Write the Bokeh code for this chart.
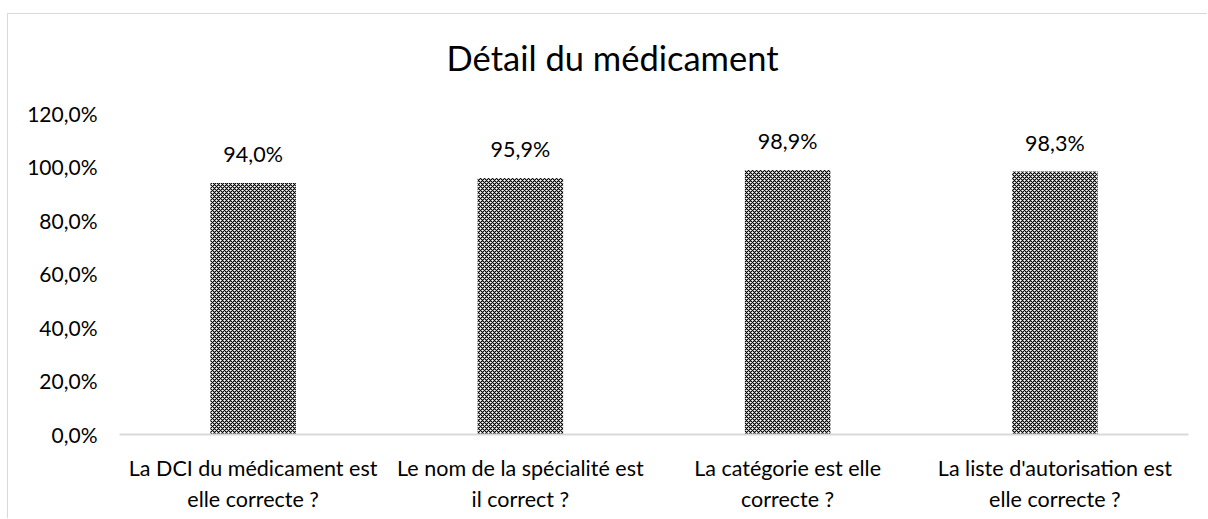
from bokeh.plotting import figure
from bokeh.models import FixedTicker, CustomJSTickFormatter, ColumnDataSource
from bokeh.core.properties import value
from bokeh.embed import file_html
from bokeh.resources import INLINE

title_text = "Détail du médicament"
categories = [
    "La DCI du médicament est\nelle correcte ?",
    "Le nom de la spécialité est\nil correct ?",
    "La catégorie est elle\ncorrecte ?",
    "La liste d'autorisation est\nelle correcte ?",
]
values = [0.940, 0.959, 0.989, 0.983]
value_labels = ["94,0%", "95,9%", "98,9%", "98,3%"]
y_ticks = [0, 0.2, 0.4, 0.6, 0.8, 1.0, 1.2]

FONT = "Lato"

# the frame reaches up to the top of the chart; the title sits in its upper part
p = figure(
    x_range=categories, y_range=(0, 1.57),
    width=1200, height=505,
    output_backend="svg", toolbar_location=None,
    min_border_left=111, min_border_right=20,
    min_border_top=0, min_border_bottom=85,
    margin=(13, 0, 0, 7),
    styles={"border-top": "1px solid #d9d9d9", "border-left": "1px solid #d9d9d9"},
)
p.outline_line_color = None
p.xgrid.grid_line_color = None
p.ygrid.grid_line_color = None
p.background_fill_color = "white"
p.border_fill_color = "white"

src = ColumnDataSource(dict(x=categories, top=values, lab=value_labels))
p.vbar(x="x", top="top", width=0.32, source=src,
       fill_color="white", line_color=None,
       hatch_pattern="diagonal_cross", hatch_color="black",
       hatch_scale=4, hatch_weight=1.15)

p.text(x="x", y="top", text="lab", source=src,
       text_align="center", text_baseline="bottom", y_offset=-16,
       text_font=value(FONT), text_font_size="21.5px", text_color="black")

# chart title
p.text(x=[1.845], y=[1.408], text=[title_text],
       text_align="center", text_baseline="alphabetic",
       text_font=value(FONT), text_font_size="34.5px", text_color="black")

# y axis
p.yaxis.ticker = FixedTicker(ticks=y_ticks)
p.yaxis.formatter = CustomJSTickFormatter(
    code="return (tick*100).toFixed(1).replace('.', ',') + '%';")
p.yaxis.axis_line_color = None
p.yaxis.major_tick_line_color = None
p.yaxis.minor_tick_line_color = None
p.yaxis.major_label_standoff = 16
p.yaxis.major_label_text_font = FONT
p.yaxis.major_label_text_font_size = "21px"
p.yaxis.major_label_text_color = "black"

# x axis
p.xaxis.axis_line_color = "#d9d9d9"
p.xaxis.axis_line_width = 2
p.xaxis.major_tick_line_color = None
p.xaxis.minor_tick_line_color = None
p.xaxis.major_label_standoff = 14
p.xaxis.major_label_text_font = FONT
p.xaxis.major_label_text_font_size = "21.5px"
p.xaxis.major_label_text_color = "black"

open("out.html", "w").write(file_html(p, INLINE))
